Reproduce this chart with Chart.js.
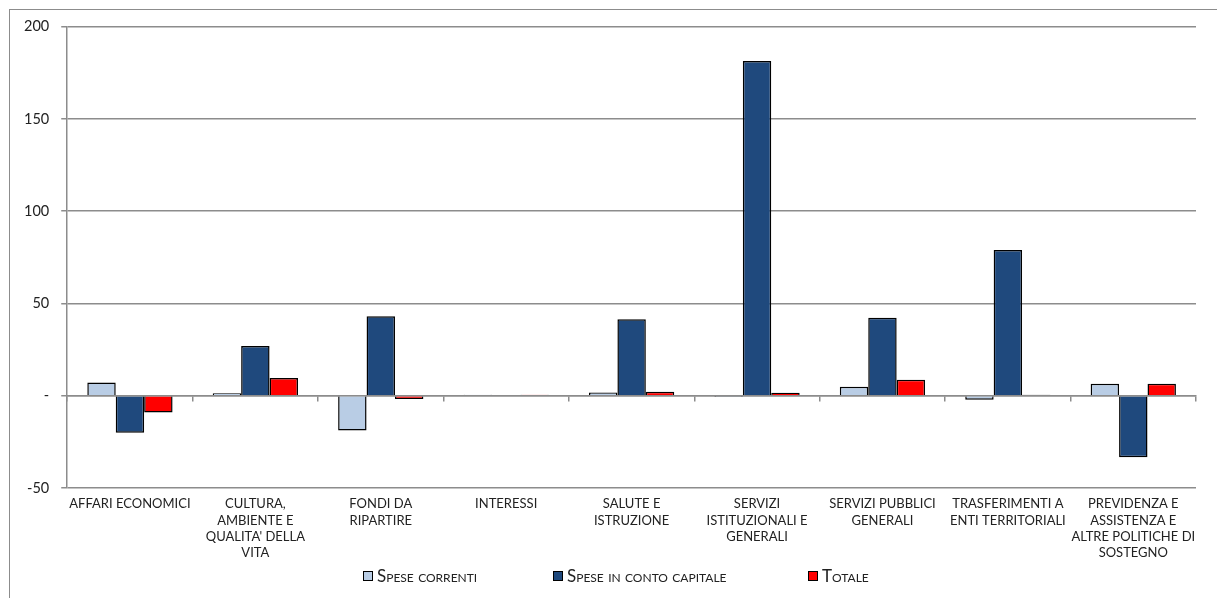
<!DOCTYPE html>
<html>
<head>
<meta charset="utf-8">
<script src="https://cdn.jsdelivr.net/npm/chart.js@4"></script>
<style>
  html, body { margin: 0; padding: 0; background: #fff; overflow: hidden; }
  #box {
    position: absolute; left: 9px; top: 9px;
    width: 1208px; height: 589px;
    border-left: 1.5px solid #8c8c8c; border-top: 1.5px solid #8c8c8c;
  }
  #wrap { position: relative; width: 1206px; height: 560px; margin-top: -4px; }
  #legenda {
    position: absolute; left: 353px; top: 555px;
    display: flex; align-items: center;
    font-family: Lato, sans-serif; font-size: 17px; font-variant: small-caps; color: #222;
  }
  #legenda .voce { display: flex; align-items: center; }
  #legenda .box { width: 8px; height: 8px; border: 1.5px solid #000; margin-right: 4px; }
</style>
</head>
<body>
<div id="box">
  <div id="wrap"><canvas id="myChart"></canvas></div>
  <div id="legenda"></div>
</div>
<script>
// Categorie (etichette su piu' righe)
const categorie = [
  ["AFFARI ECONOMICI"],
  ["CULTURA,", "AMBIENTE E", "QUALITA' DELLA", "VITA"],
  ["FONDI DA", "RIPARTIRE"],
  ["INTERESSI"],
  ["SALUTE E", "ISTRUZIONE"],
  ["SERVIZI", "ISTITUZIONALI E", "GENERALI"],
  ["SERVIZI PUBBLICI", "GENERALI"],
  ["TRASFERIMENTI A", "ENTI TERRITORIALI"],
  ["PREVIDENZA E", "ASSISTENZA E", "ALTRE POLITICHE DI", "SOSTEGNO"]
];

// Valori delle serie
const speseCorrenti = [7.2, 1.4, -18.8, 0.6, 1.8, -0.7, 4.9, -2.2, 6.5];
const speseCapitale = [-20, 27, 43.1, 0, 41.5, 181.4, 42.3, 79, -33.3];
const totale = [-9.1, 9.6, -1.8, 0.6, 2.2, 1.6, 8.7, 0.5, 6.5];

// Tacche asse y
const yTicks = [-50, 0, 50, 100, 150, 200];

const grigio = '#8c8c8c';
const font = 'Lato';

let ctx = document.getElementById('myChart');

let myBarChart = new Chart(ctx, {
    type: 'bar',
    data: {
        labels: categorie,
        datasets: [{
            label: 'Spese correnti',
            data: speseCorrenti,
            backgroundColor: '#b9cde5',
            borderColor: '#000',
            borderWidth: 1.5
        }, {
            label: 'Spese in conto capitale',
            data: speseCapitale,
            backgroundColor: '#1f497d',
            borderColor: '#000',
            borderWidth: 1.5
        }, {
            label: 'Totale',
            data: totale,
            backgroundColor: '#ff0000',
            borderColor: '#000',
            borderWidth: 1.5
        }]
    },
    options: {
        responsive: true,
        maintainAspectRatio: false,
        animation: false,
        datasets: {
            bar: { categoryPercentage: 0.68, barPercentage: 1, borderSkipped: 'start' }
        },
        layout: { padding: { left: 2, right: 20, top: 0, bottom: 5 } },
        plugins: {
            tooltip: { enabled: false },
            legend: { display: false }
        },
        scales: {
            x: {
                grid: { display: false },
                border: { display: false },
                ticks: {
                    autoSkip: false,
                    maxRotation: 0,
                    padding: 0,
                    color: '#222',
                    font: { family: font, size: 13, lineHeight: 1.25 }
                }
            },
            x0: {
                type: 'category',
                position: { y: 0 },
                offset: true,
                grid: { offset: true, drawOnChartArea: false, drawTicks: true, tickLength: 5, color: grigio, lineWidth: 1.5 },
                border: { display: true, color: grigio, width: 1.5 },
                ticks: { display: false }
            },
            y: {
                min: yTicks[0],
                max: yTicks[yTicks.length - 1],
                afterBuildTicks: (axis) => { axis.ticks = yTicks.map(v => ({ value: v })); },
                grid: { color: grigio, lineWidth: 1.5, tickLength: 6 },
                border: { display: true, color: grigio, width: 1.5 },
                ticks: {
                    padding: 12,
                    color: '#222',
                    font: { family: font, size: 14.5 },
                    callback: (v) => v === 0 ? '-' : v
                }
            }
        }
    }
});

// Legenda HTML (maiuscoletto) costruita dalle serie del grafico
const larghezzeVoci = [190, 255, null];
const legenda = document.getElementById('legenda');
myBarChart.data.datasets.forEach((ds, i) => {
    const voce = document.createElement('div');
    voce.className = 'voce';
    if (larghezzeVoci[i]) voce.style.width = larghezzeVoci[i] + 'px';
    const box = document.createElement('span');
    box.className = 'box';
    box.style.background = ds.backgroundColor;
    const testo = document.createElement('span');
    testo.textContent = ds.label;
    voce.appendChild(box);
    voce.appendChild(testo);
    legenda.appendChild(voce);
});
</script>
</body>
</html>
